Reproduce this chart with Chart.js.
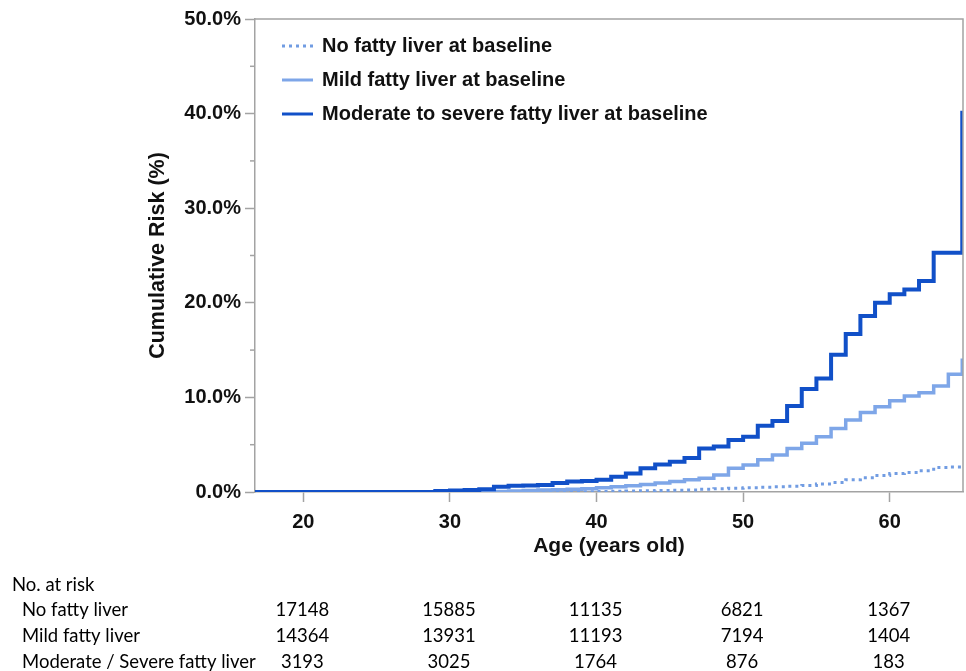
<!DOCTYPE html>
<html>
<head>
<meta charset="utf-8">
<script src="https://cdn.jsdelivr.net/npm/chart.js@4.4.1/dist/chart.umd.min.js"></script>
<style>
  html, body { margin: 0; padding: 0; background: #fff; }
  #wrap { position: relative; width: 966px; height: 671px; }
</style>
</head>
<body>
<div id="wrap"><canvas id="grafico"></canvas></div>
<script>
// idades em que a curva muda de degrau
const idades = [16.7, 29, 30, 31, 32, 33, 34, 35, 36, 37, 38, 39, 40, 41, 42, 43, 44, 45, 46, 47,
    48, 49, 50, 51, 52, 53, 54, 55, 56, 57, 58, 59, 60, 61, 62, 63, 64, 64.95];

const riscoSemGordura = [0, 0, 0, 0, 0, 0, 0, 0, 0, 0, 0, 0.02, 0.05, 0.07, 0.1, 0.12, 0.15, 0.18, 0.2, 0.3,
    0.35, 0.4, 0.45, 0.5, 0.55, 0.6, 0.7, 0.85, 1.0, 1.3, 1.5, 1.75, 1.95, 2.05, 2.25, 2.6, 2.65, 2.65];

const riscoLeve = [0, 0, 0, 0, 0, 0.05, 0.1, 0.15, 0.2, 0.25, 0.3, 0.35, 0.45, 0.55, 0.65, 0.8, 0.95, 1.1, 1.3, 1.45,
    1.8, 2.5, 2.85, 3.4, 3.9, 4.6, 5.15, 5.85, 6.7, 7.6, 8.4, 9.0, 9.65, 10.15, 10.5, 11.2, 12.45, 14.1];

const riscoModerado = [0, 0.1, 0.15, 0.2, 0.3, 0.55, 0.65, 0.7, 0.75, 0.95, 1.1, 1.15, 1.3, 1.6, 1.95, 2.5, 2.9, 3.2, 3.6, 4.6,
    4.8, 5.5, 5.85, 7.0, 7.5, 9.1, 10.9, 12.0, 14.5, 16.7, 18.6, 20.0, 20.9, 21.4, 22.3, 25.3, 25.3, 40.3];

const nomes = ['No fatty liver at baseline', 'Mild fatty liver at baseline', 'Moderate to severe fatty liver at baseline'];

// tabela "No. at risk"
const idadesTabela = [20, 30, 40, 50, 60];
const gruposTabela = ['No fatty liver', 'Mild fatty liver', 'Moderate / Severe fatty liver'];
const emRiscoSem = [17148, 15885, 11135, 6821, 1367];
const emRiscoLeve = [14364, 13931, 11193, 7194, 1404];
const emRiscoModerado = [3193, 3025, 1764, 876, 183];

const corEscura = '#1150c8';
const corClara = '#7ea6e8';
const corPontilhada = '#719ce2';
const corEixo = '#a3a3a3';

function pontos(valores) {
    return idades.map((x, i) => ({ x: x, y: valores[i] }));
}

// moldura, ticks menores, legenda e tabela
const extras = {
    id: 'extras',
    afterDraw(chart) {
        const ctx = chart.ctx;
        const area = chart.chartArea;
        const xs = chart.scales.x;
        const ys = chart.scales.y;
        ctx.save();

        ctx.strokeStyle = corEixo;
        ctx.lineWidth = 1.5;
        ctx.beginPath();
        ctx.moveTo(area.left, area.top);
        ctx.lineTo(area.right, area.top);
        ctx.lineTo(area.right, area.bottom);
        ctx.stroke();

        for (let v = 5; v < 50; v += 10) {
            const py = ys.getPixelForValue(v);
            ctx.beginPath();
            ctx.moveTo(area.left - 5, py);
            ctx.lineTo(area.left, py);
            ctx.stroke();
        }

        // legenda
        const estilos = [
            { cor: corPontilhada, dash: [3, 4], largura: 3 },
            { cor: corClara, dash: [], largura: 3 },
            { cor: corEscura, dash: [], largura: 3 }
        ];
        ctx.font = 'bold 20px "Liberation Sans", Arial, sans-serif';
        ctx.textBaseline = 'middle';
        ctx.fillStyle = '#111';
        nomes.forEach((nome, i) => {
            const ly = 46 + i * 34;
            ctx.strokeStyle = estilos[i].cor;
            ctx.lineWidth = estilos[i].largura;
            ctx.setLineDash(estilos[i].dash);
            ctx.beginPath();
            ctx.moveTo(282, ly);
            ctx.lineTo(313, ly);
            ctx.stroke();
            ctx.setLineDash([]);
            ctx.fillText(nome, 322, ly);
        });

        // tabela
        ctx.font = '18.5px Lato, "Open Sans", sans-serif';
        ctx.fillStyle = '#000';
        ctx.textAlign = 'left';
        ctx.fillText('No. at risk', 12, 585);
        const linhas = [emRiscoSem, emRiscoLeve, emRiscoModerado];
        gruposTabela.forEach((g, i) => {
            const ty = 610 + i * 26;
            ctx.textAlign = 'left';
            ctx.fillText(g, 22, ty);
            ctx.textAlign = 'center';
            linhas[i].forEach((n, j) => {
                ctx.fillText(String(n), xs.getPixelForValue(idadesTabela[j]) - 1, ty);
            });
        });
        ctx.restore();
    }
};

const ctx = document.getElementById('grafico').getContext('2d');
new Chart(ctx, {
    type: 'line',
    data: {
        datasets: [
            { label: nomes[0], data: pontos(riscoSemGordura), borderColor: corPontilhada, borderWidth: 3,
              borderDash: [3, 4], stepped: 'before', pointRadius: 0, fill: false, order: 2 },
            { label: nomes[1], data: pontos(riscoLeve), borderColor: corClara, borderWidth: 3.5,
              stepped: 'before', pointRadius: 0, fill: false, order: 1 },
            { label: nomes[2], data: pontos(riscoModerado), borderColor: corEscura, borderWidth: 4,
              stepped: 'before', pointRadius: 0, fill: false, order: 0 }
        ]
    },
    options: {
        responsive: true,
        maintainAspectRatio: false,
        animation: false,
        layout: { padding: { left: 143, top: 19, right: 3, bottom: 107 } },
        plugins: { legend: { display: false }, tooltip: { enabled: false } },
        scales: {
            x: {
                type: 'linear',
                min: 16.7,
                max: 65,
                afterBuildTicks: s => { s.ticks = [20, 30, 40, 50, 60].map(v => ({ value: v })); },
                afterFit: s => { s.height = 72; },
                border: { color: corEixo, width: 1.5 },
                grid: { drawOnChartArea: false, color: corEixo, tickLength: 10, tickWidth: 1.5 },
                ticks: { color: '#111', padding: 8, maxRotation: 0,
                         font: { family: '"Liberation Sans", Arial', size: 20, weight: 'bold' } },
                title: { display: true, text: 'Age (years old)', color: '#111', padding: { top: 0, bottom: 5 },
                         font: { family: '"Liberation Sans", Arial', size: 21, weight: 'bold' } }
            },
            y: {
                min: 0,
                max: 50,
                afterFit: s => { s.width = 112; },
                border: { color: corEixo, width: 1.5 },
                grid: { drawOnChartArea: false, color: corEixo, tickLength: 10, tickWidth: 1.5 },
                ticks: { stepSize: 10, color: '#111', padding: 4,
                         callback: v => v.toFixed(1) + '%',
                         font: { family: '"Liberation Sans", Arial', size: 20, weight: 'bold' } },
                title: { display: true, text: 'Cumulative Risk (%)', color: '#111', padding: { top: 2, bottom: 2 },
                         font: { family: '"Liberation Sans", Arial', size: 21.5, weight: 'bold' } }
            }
        }
    },
    plugins: [extras]
});
</script>
</body>
</html>
